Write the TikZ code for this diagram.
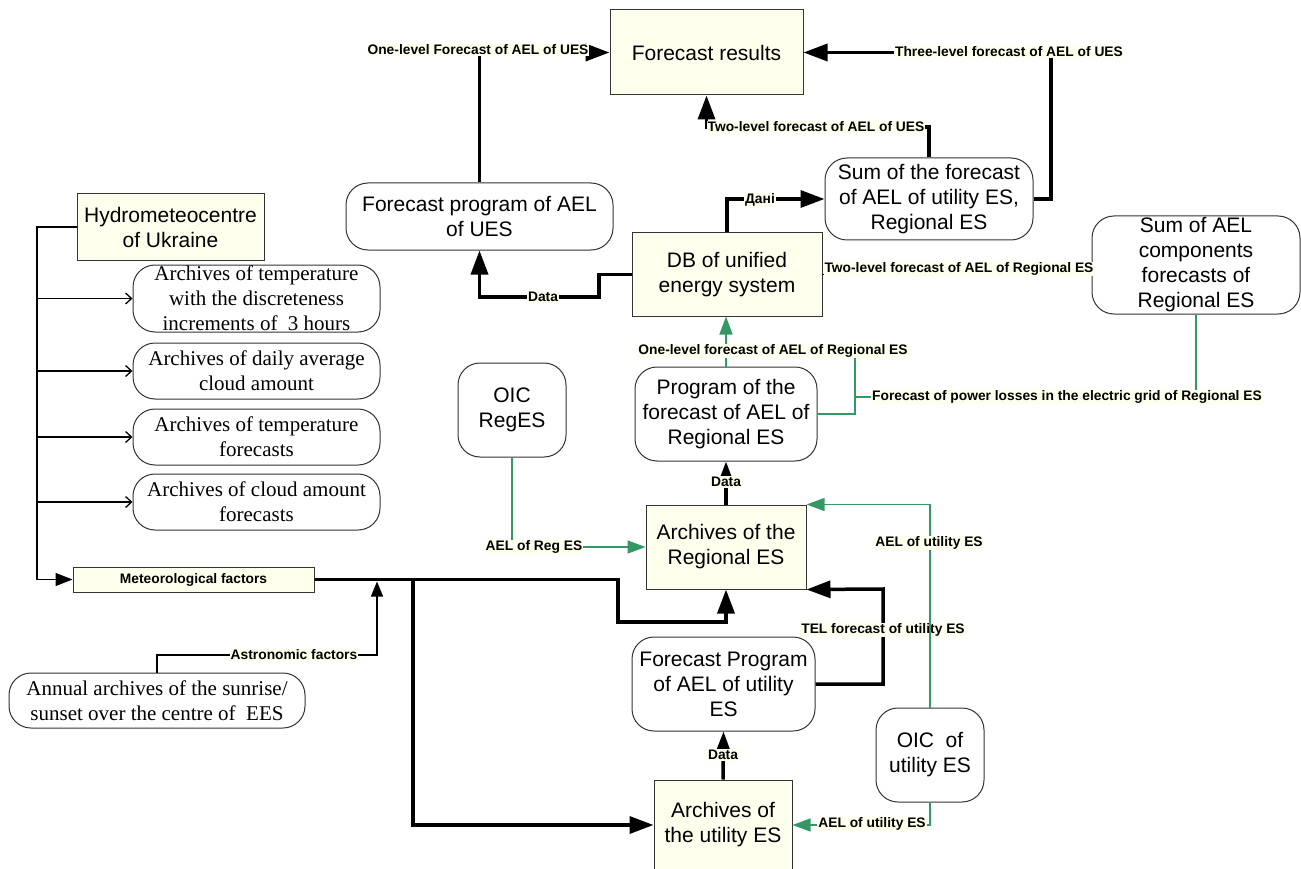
\documentclass[tikz,border=0pt]{standalone}
\usepackage{fontspec}
\setmainfont{Liberation Serif}
\setsansfont{Liberation Sans}
\usetikzlibrary{arrows.meta}
\definecolor{cream}{RGB}{255,255,238}
\definecolor{grn}{RGB}{52,152,100}

\begin{document}
\begin{tikzpicture}[x=1pt,y=-1pt]
		\tikzstyle{bloc} = [draw=black!80,line width=1pt,fill=cream,align=center,inner sep=0pt,font=\sffamily\fontsize{21}{25}\selectfont]
		\tikzstyle{prog} = [bloc,fill=white,rounded corners=22pt]
		\tikzstyle{arch} = [prog,font=\rmfamily\fontsize{21}{25}\selectfont]
		\tikzstyle{lbl} = [fill=cream,inner sep=1pt,font=\sffamily\bfseries\fontsize{13.8}{15}\selectfont]
		\tikzstyle{fleche} = [line width=3.5pt,-{Triangle[length=24pt,width=17pt]}]
		\tikzstyle{fin} = [line width=1.3pt]
		\tikzstyle{vert} = [grn,line width=1.5pt,-{Triangle[length=18pt,width=13pt]}]
		
		\useasboundingbox (0,0) rectangle (1301,869);
		
		\node[bloc,minimum width=193pt,minimum height=85pt](FR) at (706.5,52.5) {Forecast results};
		\node[prog,minimum width=267pt,minimum height=67pt](FPU) at (479.5,216.5) {Forecast program of AEL\\of UES};
		\node[prog,minimum width=208pt,minimum height=82pt](SUM) at (929,199) {Sum of the forecast\\of AEL of utility ES,\\Regional ES};
		\node[bloc,minimum width=190pt,minimum height=83pt](DB) at (727,274.5) {DB of unified\\energy system};
		\node[prog,minimum width=208pt,minimum height=98pt](SAC) at (1196,265) {Sum of AEL\\components\\forecasts of\\Regional ES};
		\node[bloc,minimum width=187pt,minimum height=66pt](HYD) at (170.5,227) {Hydrometeocentre\\of Ukraine};
		\node[arch,minimum width=247pt,minimum height=67pt](A1) at (256.5,298.5) {Archives of temperature\\with the discreteness\\increments of~~3 hours};
		\node[arch,minimum width=247pt,minimum height=56pt](A2) at (256.5,371) {Archives of daily average\\cloud amount};
		\node[arch,minimum width=247pt,minimum height=56pt](A3) at (256.5,437) {Archives of temperature\\forecasts};
		\node[arch,minimum width=247pt,minimum height=56pt](A4) at (256.5,502) {Archives of cloud amount\\forecasts};
		\node[bloc,minimum width=241pt,minimum height=25pt,font=\sffamily\bfseries\fontsize{13.8}{15}\selectfont](MET) at (193.5,579.5) {Meteorological factors};
		\node[arch,minimum width=296pt,minimum height=55pt](ANN) at (157,700.5) {Annual archives of the sunrise/\\sunset over the centre of~ EES};
		\node[prog,minimum width=108pt,minimum height=94pt](OICR) at (512,410) {OIC\\RegES};
		\node[prog,minimum width=182pt,minimum height=94pt](PRR) at (726,414) {Program of the\\forecast of AEL of\\Regional ES};
		\node[bloc,minimum width=160pt,minimum height=84pt](ARR) at (726,547) {Archives of the\\Regional ES};
		\node[prog,minimum width=183pt,minimum height=94pt](FPUt) at (723.5,684) {Forecast Program\\of AEL of utility\\ES};
		\node[prog,minimum width=108pt,minimum height=94pt](OICU) at (930,755) {OIC~ of\\utility ES};
		\node[bloc,minimum width=138pt,minimum height=90pt](AUT) at (723,825) {Archives of\\the utility ES};
		
		\coordinate (bus) at (37,227);
		
		\draw[fin,-{Triangle[length=17pt,width=13pt]}] (HYD.west) -| (37,579.5) -- (MET.west);
		\foreach \a in {A1,A2,A3,A4}
			\draw[fin,-{Straight Barb[length=6pt,width=11pt]}] (bus |- \a.west) -- (\a.west);
		
		\draw[fleche] (FPU.north) |- (FR.west);
		\draw[fleche] (SUM.east) -| (1051,52.5) -- (FR.east);
		\draw[fleche] (SUM.north) |- (706.5,127) -- (FR.south);
		\draw[fleche] (DB.north) |- (SUM.west);
		\draw[fin] (DB.east) -- (SAC.west |- DB.east);
		\draw[fleche] (DB.west) -| (599,297) -| (FPU.south);
		\draw[fleche] (ARR.north) -- (PRR.south);
		\draw[fleche] (AUT.north) -- (FPUt.south);
		\draw[fleche] (FPUt.east) -| (883,589) -- (ARR.south east);
		\draw[fleche] (MET.east) -- (618,579.5) |- (726,622) -- (ARR.south);
		\draw[fleche] (413,579.5) |- (AUT.west);
		\draw[fin,-{Triangle[length=15pt,width=12pt]}] (ANN.north) |- (377,655) -- (377,581.5);
		
		\node[lbl](l1) at (478,50) {One-level Forecast of AEL of UES};
		\node[lbl](l2) at (1009,52) {Three-level forecast of AEL of UES};
		\node[lbl](l3) at (816,127) {Two-level forecast of AEL of UES};
		\node[lbl](l4) at (760,200) {Дані};
		\node[lbl](l5) at (959,269) {Two-level forecast of AEL of Regional ES};
		\node[lbl](l6) at (543,297) {Data};
		\node[lbl](l7) at (726,482) {Data};
		\node[lbl](l8) at (723,755) {Data};
		\node[lbl](l9) at (883,630) {TEL forecast of utility ES};
		\node[lbl](l10) at (294,655) {Astronomic factors};
		
		\draw[vert] (PRR.north) -- (PRR.north |- DB.south);
		\draw[grn,line width=1.5pt] (PRR.east) -| (855,351);
		\draw[grn,line width=1.5pt] (SAC.south) |- (855,397);
		\draw[vert] (OICR.south) |- (ARR.west);
		\draw[vert] (OICU.north) |- (ARR.north east);
		\draw[vert] (OICU.south) |- (AUT.east);
		
		\node[lbl](l11) at (773,351) {One-level forecast of AEL of Regional ES};
		\node[lbl](l12) at (1067,397) {Forecast of power losses in the electric grid of Regional ES};
		\node[lbl](l13) at (534,547) {AEL of Reg ES};
		\node[lbl](l14) at (929,543) {AEL of utility ES};
		\node[lbl](l15) at (872,824) {AEL of utility ES};
		
\end{tikzpicture}
\end{document}
